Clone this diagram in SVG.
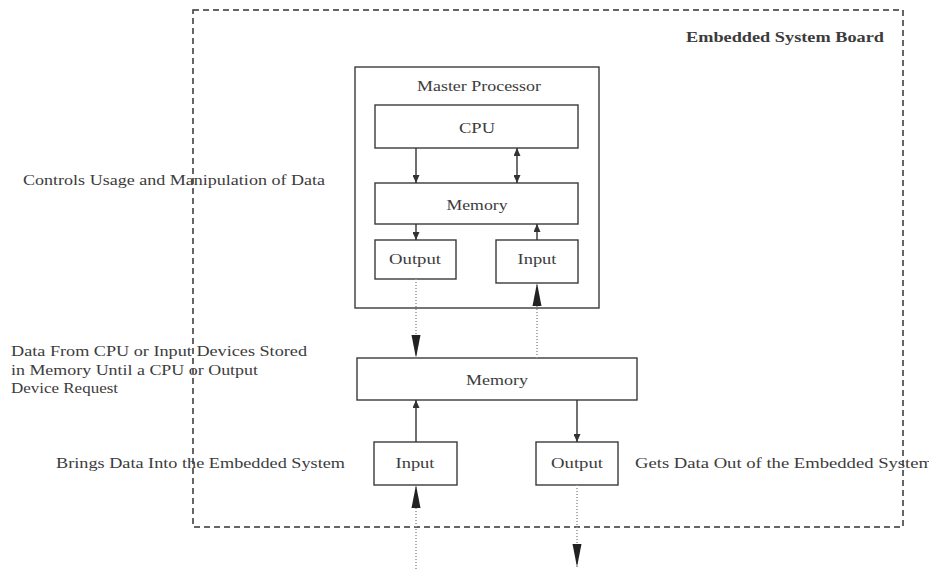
<svg xmlns="http://www.w3.org/2000/svg" width="929" height="569" viewBox="0 0 929 569">
  <style>
    .box { fill: #ffffff; stroke: #3a3a3a; stroke-width: 1.4; }
    .board { fill: none; stroke: #333333; stroke-width: 1.5; stroke-dasharray: 6 4; }
    .link { fill: none; stroke: #333333; stroke-width: 1.4; }
    .dots { fill: none; stroke: #9a9a9a; stroke-width: 1.6; stroke-dasharray: 1 2; }
    text { font-family: "Liberation Serif", "Times New Roman", serif; font-size: 15px; fill: #3c3c3c; }
    .mid { text-anchor: middle; }
    .title { font-weight: bold; }
  </style>
  <defs>
    <marker id="head" markerUnits="userSpaceOnUse" markerWidth="8" markerHeight="7" refX="8" refY="3.5" orient="auto-start-reverse">
      <path d="M0,0 L8,3.5 L0,7 Z" fill="#333333"/>
    </marker>
    <marker id="bighead" markerUnits="userSpaceOnUse" markerWidth="24" markerHeight="10" refX="23" refY="5" orient="auto">
      <path d="M0,0.5 L23,5 L0,9.5 Z" fill="#222222"/>
    </marker>
  </defs>

  <rect width="929" height="569" fill="#ffffff"/>

  <!-- board outline -->
  <g id="board">
    <rect class="board" x="193" y="10" width="710" height="517"/>
    <text class="title" x="884" y="42" text-anchor="end" textLength="198" lengthAdjust="spacingAndGlyphs">Embedded System Board</text>
  </g>

  <!-- side annotations -->
  <g id="annotations">
    <text x="23" y="185" textLength="302" lengthAdjust="spacingAndGlyphs">Controls Usage and Manipulation of Data</text>
    <text x="11" y="356" textLength="296" lengthAdjust="spacingAndGlyphs">Data From CPU or Input Devices Stored</text>
    <text x="11" y="375" textLength="247" lengthAdjust="spacingAndGlyphs">in Memory Until a CPU or Output</text>
    <text x="11" y="393" textLength="107" lengthAdjust="spacingAndGlyphs">Device Request</text>
    <text x="56" y="468" textLength="289" lengthAdjust="spacingAndGlyphs">Brings Data Into the Embedded System</text>
    <text x="635" y="468" textLength="298" lengthAdjust="spacingAndGlyphs">Gets Data Out of the Embedded System</text>
  </g>

  <!-- master processor -->
  <g id="master-processor">
    <rect class="box" x="355" y="67" width="244" height="241"/>
    <text class="mid" x="479" y="91" textLength="124" lengthAdjust="spacingAndGlyphs">Master Processor</text>
  </g>
  <g id="cpu">
    <rect class="box" x="375" y="105" width="203" height="43"/>
    <text class="mid" x="477" y="133" textLength="36" lengthAdjust="spacingAndGlyphs">CPU</text>
  </g>
  <g id="inner-memory">
    <rect class="box" x="375" y="183" width="203" height="41"/>
    <text class="mid" x="477" y="210" textLength="61" lengthAdjust="spacingAndGlyphs">Memory</text>
  </g>
  <g id="inner-output">
    <rect class="box" x="375" y="240" width="81" height="39"/>
    <text class="mid" x="415" y="264" textLength="52" lengthAdjust="spacingAndGlyphs">Output</text>
  </g>
  <g id="inner-input">
    <rect class="box" x="496" y="240" width="82" height="43"/>
    <text class="mid" x="537" y="264" textLength="39" lengthAdjust="spacingAndGlyphs">Input</text>
  </g>

  <!-- board memory and I/O -->
  <g id="memory">
    <rect class="box" x="357" y="358" width="280" height="42"/>
    <text class="mid" x="497" y="385" textLength="62" lengthAdjust="spacingAndGlyphs">Memory</text>
  </g>
  <g id="input">
    <rect class="box" x="374" y="442" width="83" height="43"/>
    <text class="mid" x="415" y="468" textLength="39" lengthAdjust="spacingAndGlyphs">Input</text>
  </g>
  <g id="output">
    <rect class="box" x="536" y="442" width="82" height="43"/>
    <text class="mid" x="577" y="468" textLength="52" lengthAdjust="spacingAndGlyphs">Output</text>
  </g>

  <!-- connectors -->
  <g id="connectors">
    <line class="link" x1="416" y1="148" x2="416" y2="183" marker-end="url(#head)"/>
    <line class="link" x1="517" y1="148" x2="517" y2="183" marker-start="url(#head)" marker-end="url(#head)"/>
    <line class="link" x1="416" y1="224" x2="416" y2="240" marker-end="url(#head)"/>
    <line class="link" x1="537" y1="240" x2="537" y2="224" marker-end="url(#head)"/>

    <line class="dots" x1="416" y1="279" x2="416" y2="358" marker-end="url(#bighead)"/>
    <line class="dots" x1="537" y1="358" x2="537" y2="283" marker-end="url(#bighead)"/>

    <line class="link" x1="416" y1="442" x2="416" y2="400" marker-end="url(#head)"/>
    <line class="link" x1="577" y1="400" x2="577" y2="442" marker-end="url(#head)"/>

    <line class="dots" x1="416" y1="569" x2="416" y2="485" marker-end="url(#bighead)"/>
    <line class="dots" x1="577" y1="485" x2="577" y2="567" marker-end="url(#bighead)"/>
  </g>
</svg>
